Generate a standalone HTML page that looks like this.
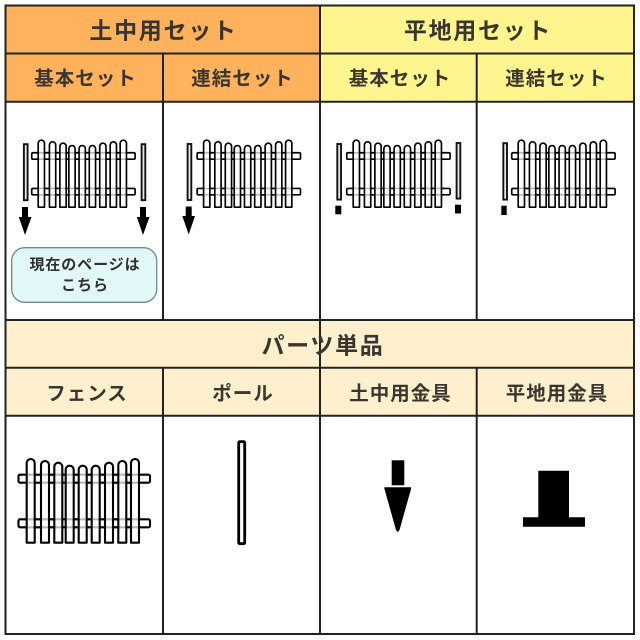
<!DOCTYPE html>
<html lang="ja">
<head>
<meta charset="utf-8">
<title>セット一覧</title>
<style>
html,body{margin:0;padding:0;background:#fff;width:640px;height:640px;overflow:hidden}
svg{display:block}
text{font-family:"Liberation Sans","Noto Sans CJK JP",sans-serif;font-weight:700;fill:#3a3530;text-anchor:middle;dominant-baseline:central}
.t{font-size:23px;letter-spacing:1.7px}
.s{font-size:19.5px;letter-spacing:1px}
.b{font-size:15px;letter-spacing:.9px;fill:#2f2f2f}
</style>
</head>
<body>
<svg width="640" height="640" viewBox="0 0 640 640" xmlns="http://www.w3.org/2000/svg">
<defs>
<g id="pk">
<path d="M26.7 542.7V463a4 4 0 0 1 8 0V542.7Z"/>
<path d="M41 542.7V465a4 4 0 0 1 8 0V542.7Z"/>
<path d="M54.3 542.7V466.7a4 4 0 0 1 8 0V542.7Z"/>
<path d="M65.7 542.7V469.7a4 4 0 0 1 8 0V542.7Z"/>
<path d="M78.7 542.7V469.7a4 4 0 0 1 8 0V542.7Z"/>
<path d="M91.7 542.7V469.7a4 4 0 0 1 8 0V542.7Z"/>
<path d="M105 542.7V466.7a4 4 0 0 1 8 0V542.7Z"/>
<path d="M118.3 542.7V465a4 4 0 0 1 8 0V542.7Z"/>
<path d="M131 542.7V463a4 4 0 0 1 8 0V542.7Z"/>
</g>
<g id="fence" stroke="#000" stroke-width="2.1" stroke-linejoin="round">
<rect x="18.5" y="474.7" width="131.5" height="8" rx="1.5" fill="#fff"/>
<rect x="18.5" y="519.3" width="131.5" height="8" rx="1.5" fill="#fff"/>
<use href="#pk" fill="#fff"/>
<path d="M26.7 474.7H139M26.7 482.7H139M26.7 519.3H139M26.7 527.3H139" fill="none" stroke-opacity=".28"/>
</g>
</defs>

<rect x="0" y="0" width="640" height="640" fill="#fff"/>
<rect x="5.5" y="5.5" width="314.5" height="96" fill="#ffb25c"/>
<rect x="320" y="5.5" width="314" height="96" fill="#fff58f"/>
<rect x="5.5" y="320" width="628.5" height="96" fill="#fff0cd"/>

<g stroke="#222" stroke-width="2" fill="none">
<rect x="5.5" y="5.5" width="628.5" height="628.5"/>
<path d="M5.5 53.5H634M5.5 101.7H634M5.5 320H634M5.5 367.7H634M5.5 415.7H634"/>
<path d="M320 5.5V634M163 53.5V320M476.7 53.5V320M163 367.7V634M476.7 367.7V634"/>
</g>

<text class="t" x="163.5" y="30.5">土中用セット</text>
<text class="t" x="478" y="30.5">平地用セット</text>
<text class="s" x="85.5" y="79">基本セット</text>
<text class="s" x="242.5" y="79">連結セット</text>
<text class="s" x="400" y="79">基本セット</text>
<text class="s" x="556.5" y="79">連結セット</text>
<text class="t" x="323" y="345.5">パーツ単品</text>
<text class="s" x="87" y="394">フェンス</text>
<text class="s" x="243" y="394">ポール</text>
<text class="s" x="400.5" y="394">土中用金具</text>
<text class="s" x="557" y="394">平地用金具</text>

<!-- Cell 1 -->
<use href="#fence" transform="translate(17.2 -227) scale(.786 .8)"/>
<g fill="#e8e8e8" stroke="#111" stroke-width="1.9">
<rect x="23.9" y="144.2" width="3.7" height="56"/>
<rect x="141.6" y="144.2" width="3.7" height="56"/>
</g>
<path d="M22 207H28V217H31.5L25 235L18.8 217H22Z" fill="#000"/>
<path d="M140 207H146V217H149.5L143 235L136.8 217H140Z" fill="#000"/>
<rect x="11.7" y="247.7" width="145" height="54.6" rx="13" fill="#e2f7f7" stroke="#6f8b8b" stroke-width="1.3"/>
<text class="b" x="85" y="265">現在のページは</text>
<text class="b" x="85" y="285.7">こちら</text>

<!-- Cell 2 -->
<use href="#fence" transform="translate(182.6 -227) scale(.786 .8)"/>
<rect x="187.6" y="144" width="3.7" height="56" fill="#e8e8e8" stroke="#111" stroke-width="1.9"/>
<path d="M185.7 206.5H191.7V216H195L188.7 234.5L182.3 216H185.7Z" fill="#000"/>

<!-- Cell 3 -->
<use href="#fence" transform="translate(332.2 -227) scale(.786 .8)"/>
<g fill="#e8e8e8" stroke="#111" stroke-width="1.9">
<rect x="337.3" y="144" width="3.7" height="55.6"/>
<rect x="456.6" y="143" width="3.7" height="55.6"/>
</g>
<rect x="335.3" y="205.7" width="6" height="8.6" fill="#000"/>
<rect x="455" y="204.7" width="6" height="8.8" fill="#000"/>

<!-- Cell 4 -->
<use href="#fence" transform="translate(497.2 -227) scale(.786 .8)"/>
<rect x="503.3" y="143.2" width="3.7" height="56.4" fill="#e8e8e8" stroke="#111" stroke-width="1.9"/>
<rect x="501.3" y="205.7" width="5.4" height="9.3" fill="#000"/>

<!-- Parts -->
<use href="#fence"/>
<rect x="238.7" y="441.7" width="6" height="102" rx="1" fill="#fff" stroke="#000" stroke-width="2.8"/>
<rect x="391.7" y="460.3" width="12.6" height="25" fill="#000"/>
<path d="M385 488H410.5L399 529Q398 531 397.8 531Q397 531 396.5 529Z" fill="#000" stroke="#000" stroke-width="1.5" stroke-linejoin="round"/>
<path d="M538.3 470.7H569V517.3H585V526.7H523V517.3H538.3Z" fill="#000"/>
</svg>
</body>
</html>
